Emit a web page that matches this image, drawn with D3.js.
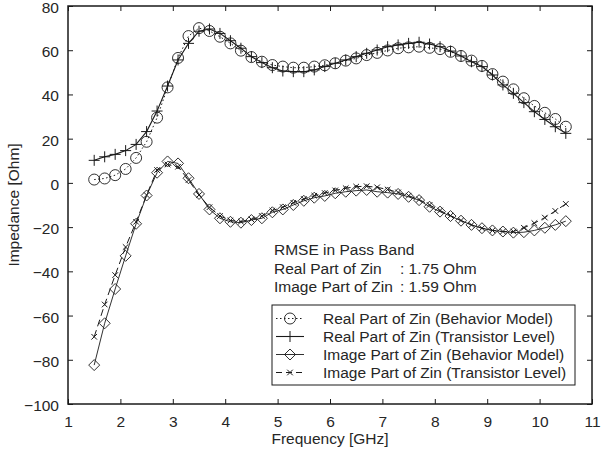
<!DOCTYPE html>
<html>
<head>
<meta charset="utf-8">
<script src="https://cdn.jsdelivr.net/npm/d3@7/dist/d3.min.js"></script>
<style>
  html, body { margin: 0; padding: 0; background: #fff; }
  svg { display: block; font-family: "Liberation Sans", Arial, sans-serif; }
</style>
</head>
<body>
<svg id="chart" width="604" height="452"></svg>
<script>
// Frequency sweep, 1.5 to 10.5 GHz in 0.2 GHz steps
const freq = [1.5,1.7,1.9,2.1,2.3,2.5,2.7,2.9,3.1,3.3,3.5,3.7,3.9,4.1,4.3,4.5,4.7,4.9,5.1,5.3,5.5,5.7,5.9,6.1,6.3,6.5,6.7,6.9,7.1,7.3,7.5,7.7,7.9,8.1,8.3,8.5,8.7,8.9,9.1,9.3,9.5,9.7,9.9,10.1,10.3,10.5];

const realBehavior = [1.5,2.0,3.5,6.3,11.3,18.6,29.5,43.2,56.5,66.4,70.0,68.7,66.1,63.1,59.8,56.9,54.8,53.3,52.6,52.1,52.1,52.6,53.2,54.1,55.3,56.3,57.8,58.8,59.9,60.9,61.3,61.6,61.1,60.5,59.3,57.4,55.3,52.9,49.2,45.8,42.3,38.3,34.8,31.7,28.9,25.4];

const realTransistor = [10.2,11.8,12.9,14.6,17.4,23.2,32.5,43.8,55.6,63.1,68.6,69.6,67.6,64.3,60.9,57.1,54.4,52.1,50.6,50.3,50.3,51.1,52.6,54.1,55.6,57.1,58.6,60.1,61.6,62.4,63.1,63.6,62.8,61.6,59.6,57.4,54.8,52.6,48.8,44.3,40.5,36.3,32.2,28.7,25.4,22.4];

const imageBehavior = [-82.4,-63.5,-48,-33,-18.5,-5.7,4.6,9.7,8.8,2.1,-5,-12,-16,-17.6,-18,-16.8,-16,-13.3,-12,-10,-8.1,-6.7,-5.9,-4.7,-4,-3.5,-3.2,-4,-4.4,-5,-6.3,-7.8,-10.8,-13,-15,-17.1,-19,-20.5,-21.5,-22,-22.5,-22.3,-21.5,-20.3,-19,-17.3];

const imageTransistor = [-69.6,-55,-41.7,-29,-17.6,-5.5,5.8,8.3,7.3,1.3,-5.5,-11,-15,-17,-17.5,-16.5,-15,-12.5,-11,-9,-7.3,-5.8,-4.6,-3.4,-2.4,-1.7,-1.5,-2,-3,-4.3,-5.8,-7.5,-10,-12.5,-14.8,-17,-19,-20.5,-21.5,-22,-22,-20.3,-18.2,-15.7,-12.7,-9.5];

const xTicks = [1,2,3,4,5,6,7,8,9,10,11];
const yTicks = [-100,-80,-60,-40,-20,0,20,40,60,80];

const seriesNames = [
  "Real Part of Zin (Behavior Model)",
  "Real Part of Zin (Transistor Level)",
  "Image Part of Zin (Behavior Model)",
  "Image Part of Zin (Transistor Level)"
];

const rmseLines = ["RMSE in Pass Band", "Real Part of Zin", "Image Part of Zin"];
const rmseValues = ["", ": 1.75 Ohm", ": 1.59 Ohm"];

const ink = "#1a1a1a";
const textInk = "#262626";
const fontSize = "15.5px";
const svg = d3.select("#chart");
const plotL = 68, plotR = 592, plotT = 6, plotB = 404;

const x = d3.scaleLinear().domain([1, 11]).range([plotL, plotR]);
const y = d3.scaleLinear().domain([-100, 80]).range([plotB, plotT]);

// Axes: ticks point inward on all four sides
const tickLen = 5;
const gx = svg.append("g").attr("transform", `translate(0,${plotB})`)
  .call(d3.axisBottom(x).tickValues(xTicks).tickSize(-tickLen).tickPadding(12).tickFormat(d3.format("d")));
const gxTop = svg.append("g").attr("transform", `translate(0,${plotT})`)
  .call(d3.axisTop(x).tickValues(xTicks).tickSize(-tickLen).tickFormat(""));
const gy = svg.append("g").attr("transform", `translate(${plotL},0)`)
  .call(d3.axisLeft(y).tickValues(yTicks).tickSize(-tickLen).tickPadding(9).tickFormat(d3.format("d")));
const gyRight = svg.append("g").attr("transform", `translate(${plotR},0)`)
  .call(d3.axisRight(y).tickValues(yTicks).tickSize(-tickLen).tickFormat(""));

[gx, gxTop, gy, gyRight].forEach(g => {
  g.select(".domain").remove();
  g.selectAll(".tick line").attr("stroke", ink).attr("stroke-width", 1);
  g.selectAll(".tick text").attr("fill", textInk).style("font-size", fontSize)
    .style("font-family", "'Liberation Sans', Arial, sans-serif");
});
gy.selectAll(".tick text").attr("dy", "0.42em");

// Plot frame
svg.append("rect").attr("x", plotL).attr("y", plotT)
  .attr("width", plotR - plotL).attr("height", plotB - plotT)
  .attr("fill", "none").attr("stroke", ink).attr("stroke-width", 1.5);

// Axis titles
svg.append("text").attr("x", (plotL + plotR) / 2).attr("y", 444)
  .attr("text-anchor", "middle").attr("fill", textInk).style("font-size", fontSize)
  .text("Frequency [GHz]");
svg.append("text").attr("transform", `translate(19,${(plotT + plotB) / 2}) rotate(-90)`)
  .attr("text-anchor", "middle").attr("fill", textInk).style("font-size", fontSize)
  .text("Impedance [Ohm]");

// Marker drawing helpers
function drawCircle(g, cx, cy) {
  g.append("circle").attr("cx", cx).attr("cy", cy).attr("r", 5.5)
    .attr("fill", "none").attr("stroke", ink).attr("stroke-width", 0.9);
}
function drawPlus(g, cx, cy) {
  g.append("path").attr("d", `M${cx - 5.5},${cy}H${cx + 5.5}M${cx},${cy - 5.5}V${cy + 5.5}`)
    .attr("stroke", ink).attr("stroke-width", 1).attr("fill", "none");
}
function drawDiamond(g, cx, cy) {
  g.append("path").attr("d", `M${cx},${cy - 5.5}L${cx + 5.5},${cy}L${cx},${cy + 5.5}L${cx - 5.5},${cy}Z`)
    .attr("fill", "none").attr("stroke", ink).attr("stroke-width", 0.9);
}
function drawCross(g, cx, cy) {
  const s = 2.8;
  g.append("path").attr("d", `M${cx - s},${cy - s}L${cx + s},${cy + s}M${cx - s},${cy + s}L${cx + s},${cy - s}`)
    .attr("stroke", ink).attr("stroke-width", 1).attr("fill", "none");
}

const series = [
  { values: realBehavior, dash: "1.5,2.5", width: 1, marker: drawCircle },
  { values: realTransistor, dash: null, width: 1.1, marker: drawPlus },
  { values: imageBehavior, dash: null, width: 0.9, marker: drawDiamond },
  { values: imageTransistor, dash: "7,4", width: 1, marker: drawCross }
];

const line = d3.line().x(d => x(d[0])).y(d => y(d[1]));

series.forEach(s => {
  const pts = freq.map((f, i) => [f, s.values[i]]);
  const g = svg.append("g");
  g.append("path").datum(pts).attr("d", line)
    .attr("fill", "none").attr("stroke", ink).attr("stroke-width", s.width)
    .attr("stroke-dasharray", s.dash);
  pts.forEach(p => s.marker(g, x(p[0]), y(p[1])));
});

// RMSE annotation
const ann = svg.append("g").attr("fill", textInk).style("font-size", fontSize);
rmseLines.forEach((t, i) => {
  ann.append("text").attr("x", 274).attr("y", 255 + i * 18.5).text(t);
  if (rmseValues[i]) ann.append("text").attr("x", 400).attr("y", 255 + i * 18.5).text(rmseValues[i]);
});

// Legend
const lg = svg.append("g");
lg.append("rect").attr("x", 272).attr("y", 305).attr("width", 303).attr("height", 80)
  .attr("fill", "#fff").attr("stroke", ink).attr("stroke-width", 1);
seriesNames.forEach((name, i) => {
  const cy = 318.5 + i * 18;
  const s = series[i];
  lg.append("line").attr("x1", 276).attr("x2", 304).attr("y1", cy).attr("y2", cy)
    .attr("stroke", ink).attr("stroke-width", s.width)
    .attr("stroke-dasharray", s.dash ? (i === 3 ? "6,4" : s.dash) : null);
  s.marker(lg, 290, cy);
  lg.append("text").attr("x", 323).attr("y", cy + 5).attr("fill", textInk)
    .style("font-size", fontSize).text(name);
});
</script>
</body>
</html>
